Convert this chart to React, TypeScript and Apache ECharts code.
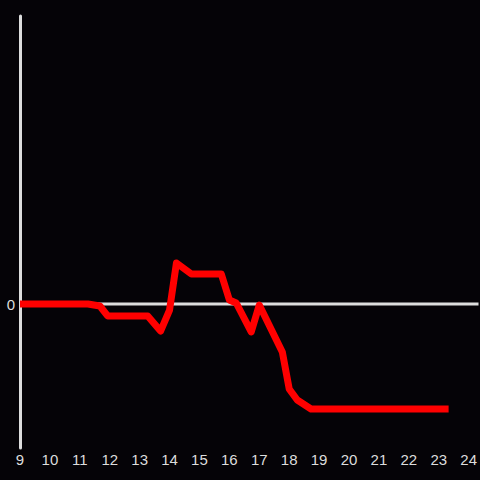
import React, { useEffect, useRef } from "react";
import * as echarts from "echarts";

const hours = [9.0, 11.27, 11.67, 11.93, 13.27, 13.7, 14.0, 14.23, 14.73, 15.73, 16.0, 16.23, 16.73, 17.0, 17.77, 18.0, 18.27, 18.73, 23.33];
const values = [0, 0, -0.14, -0.83, -0.83, -1.88, -0.42, 2.85, 2.08, 2.08, 0.28, 0.07, -1.94, -0.07, -3.33, -5.9, -6.67, -7.29, -7.29];
const zeroLine = [[9, 0], [24.33, 0]];

export default function App() {
  const ref = useRef<HTMLDivElement>(null);
  useEffect(() => {
    if (!ref.current) return;
    const chart = echarts.init(ref.current, null, { renderer: "svg" });
    chart.setOption({
      animation: false,
      backgroundColor: "#050307",
      grid: { left: 20, right: 0, top: 16, bottom: 32, containLabel: false },
      xAxis: {
        type: "value",
        min: 9,
        max: 24.33,
        interval: 1,
        axisLine: { show: false },
        axisTick: { show: false },
        splitLine: { show: false },
        axisLabel: {
          color: "#dddddd",
          fontSize: 15,
          margin: 4,
          showMaxLabel: false,
          formatter: (v: number) => (Number.isInteger(v) ? String(v) : ""),
        },
      },
      yAxis: {
        type: "value",
        min: -10,
        max: 20,
        interval: 10,
        axisLine: { show: true, onZero: false, lineStyle: { color: "#dddddd", width: 3 } },
        axisTick: { show: false },
        splitLine: { show: false },
        axisLabel: {
          color: "#dddddd",
          fontSize: 15,
          margin: 5,
          formatter: (v: number) => (v === 0 ? "0" : ""),
        },
      },
      series: [
        {
          type: "line",
          data: zeroLine,
          symbol: "none",
          z: 1,
          lineStyle: { color: "#dddddd", width: 3 },
          silent: true,
        },
        {
          type: "line",
          data: hours.map((h, i) => [h, values[i]]),
          symbol: "none",
          z: 3,
          lineStyle: { color: "#ff0000", width: 7, join: "round" },
        },
      ],
    });
    return () => chart.dispose();
  }, []);
  return <div ref={ref} style={{ width: 480, height: 480, position: "fixed", left: 0, top: 0 }} />;
}
